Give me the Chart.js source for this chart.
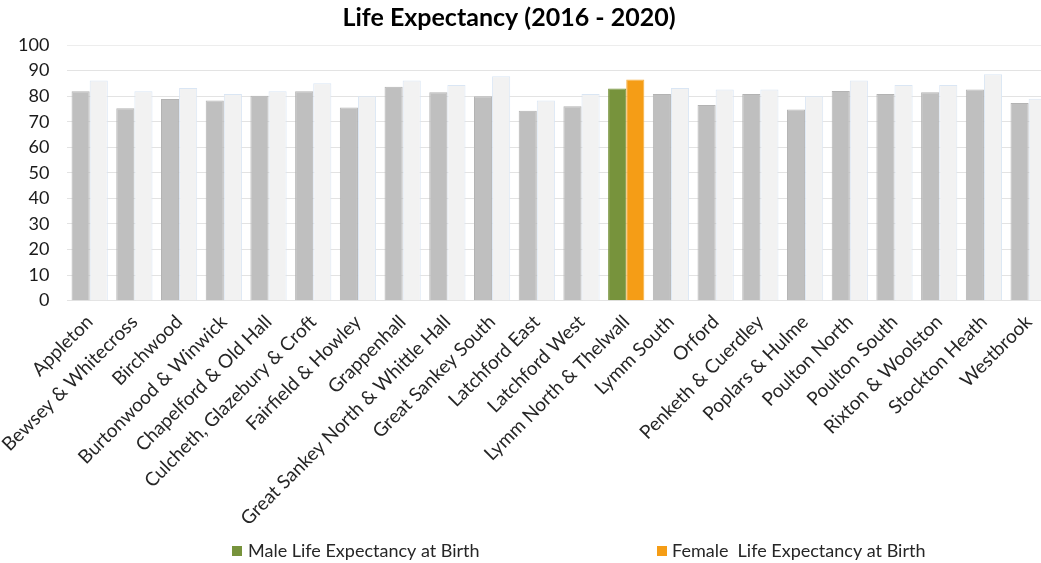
<!DOCTYPE html>
<html>
<head>
<meta charset="utf-8">
<script src="https://cdn.jsdelivr.net/npm/chart.js@4"></script>
<style>
  body { margin: 0; overflow: hidden; background: #fff; }
  #wrap { position: relative; width: 1051px; height: 563px; }
</style>
</head>
<body>
<div id="wrap"><canvas id="lifeChart"></canvas></div>
<script>
// wards
var wards = ["Appleton", "Bewsey & Whitecross", "Birchwood", "Burtonwood & Winwick",
  "Chapelford & Old Hall", "Culcheth, Glazebury & Croft", "Fairfield & Howley", "Grappenhall",
  "Great Sankey North & Whittle Hall", "Great Sankey South", "Latchford East", "Latchford West",
  "Lymm North & Thelwall", "Lymm South", "Orford", "Penketh & Cuerdley", "Poplars & Hulme",
  "Poulton North", "Poulton South", "Rixton & Woolston", "Stockton Heath", "Westbrook"];

var maleValues = [81.9, 75.3, 78.9, 78.3, 80.2, 81.9, 75.6, 83.7, 81.5, 80.0, 74.3,
  76.0, 83.0, 80.8, 76.5, 80.8, 74.8, 82.0, 80.8, 81.5, 82.6, 77.3];
var femaleValues = [86.1, 81.9, 83.2, 80.8, 81.9, 85.0, 80.0, 86.1, 84.4, 87.8, 78.3,
  80.8, 86.5, 83.2, 82.6, 82.6, 80.0, 86.1, 84.4, 84.4, 88.6, 79.0];

var yTicks = [0, 10, 20, 30, 40, 50, 60, 70, 80, 90, 100];
var highlightWard = "Lymm North & Thelwall";

var titleText = "Life Expectancy (2016 - 2020)";
var maleLabel = "Male Life Expectancy at Birth";
var femaleLabel = "Female  Life Expectancy at Birth";

var green = "#77933C";
var orange = "#F59D16";

function pick(on, off) {
  return wards.map(function (w) { return w === highlightWard ? on : off; });
}

// title + legend are drawn by hand so they sit where the original has them
var decorPlugin = {
  id: "decor",
  afterDraw: function (chart) {
    var ctx = chart.ctx;
    ctx.save();
    ctx.fillStyle = "#000";
    ctx.font = "bold 25px Lato";
    ctx.textAlign = "center";
    ctx.textBaseline = "middle";
    ctx.fillText(titleText, 509, 18);

    ctx.font = "18px Lato";
    ctx.textAlign = "left";
    ctx.fillStyle = green;
    ctx.fillRect(232, 546, 10, 10);
    ctx.fillStyle = "#262626";
    ctx.fillText(maleLabel, 248, 551);
    ctx.fillStyle = orange;
    ctx.fillRect(657, 546, 10, 10);
    ctx.fillStyle = "#262626";
    ctx.fillText(femaleLabel, 672, 551);
    ctx.restore();
  }
};

new Chart("lifeChart", {
  type: "bar",
  data: {
    labels: wards,
    datasets: [{
      label: maleLabel,
      data: maleValues,
      backgroundColor: pick(green, "#BFBFBF"),
      borderColor: pick(green, "#B3B3B3"),
      borderWidth: 1,
      barPercentage: 1.0,
      categoryPercentage: 0.81
    }, {
      label: femaleLabel,
      data: femaleValues,
      backgroundColor: pick(orange, "#F2F2F2"),
      borderColor: pick("#F7B040", "#DAE6F4"),
      borderWidth: 1,
      barPercentage: 1.0,
      categoryPercentage: 0.81
    }]
  },
  plugins: [decorPlugin],
  options: {
    responsive: true,
    maintainAspectRatio: false,
    animation: false,
    layout: { padding: { top: 45, left: 0, right: 0, bottom: 31 } },
    plugins: {
      legend: { display: false },
      title: { display: false },
      tooltip: { enabled: false }
    },
    scales: {
      x: {
        grid: { display: false },
        border: { display: false },
        // let the rotated first label hang past the axis, like the original
        afterFit: function (scale) {
          scale.paddingLeft = 0;
          scale.paddingRight = 0;
        },
        ticks: {
          color: "#262626",
          font: { family: "Lato", size: 19 },
          minRotation: 45,
          maxRotation: 45,
          autoSkip: false,
          padding: 2
        }
      },
      y: {
        min: 0,
        max: 100,
        afterBuildTicks: function (axis) {
          axis.ticks = yTicks.map(function (v) { return { value: v }; });
        },
        grid: {
          color: function (c) { return c.tick && c.tick.value === 100 ? "#EDEDED" : "#E3E3E3"; },
          drawTicks: false
        },
        border: { display: false },
        ticks: {
          color: "#1a1a1a",
          font: { family: "Lato", size: 18 },
          padding: 18
        }
      }
    }
  }
});
</script>
</body>
</html>
